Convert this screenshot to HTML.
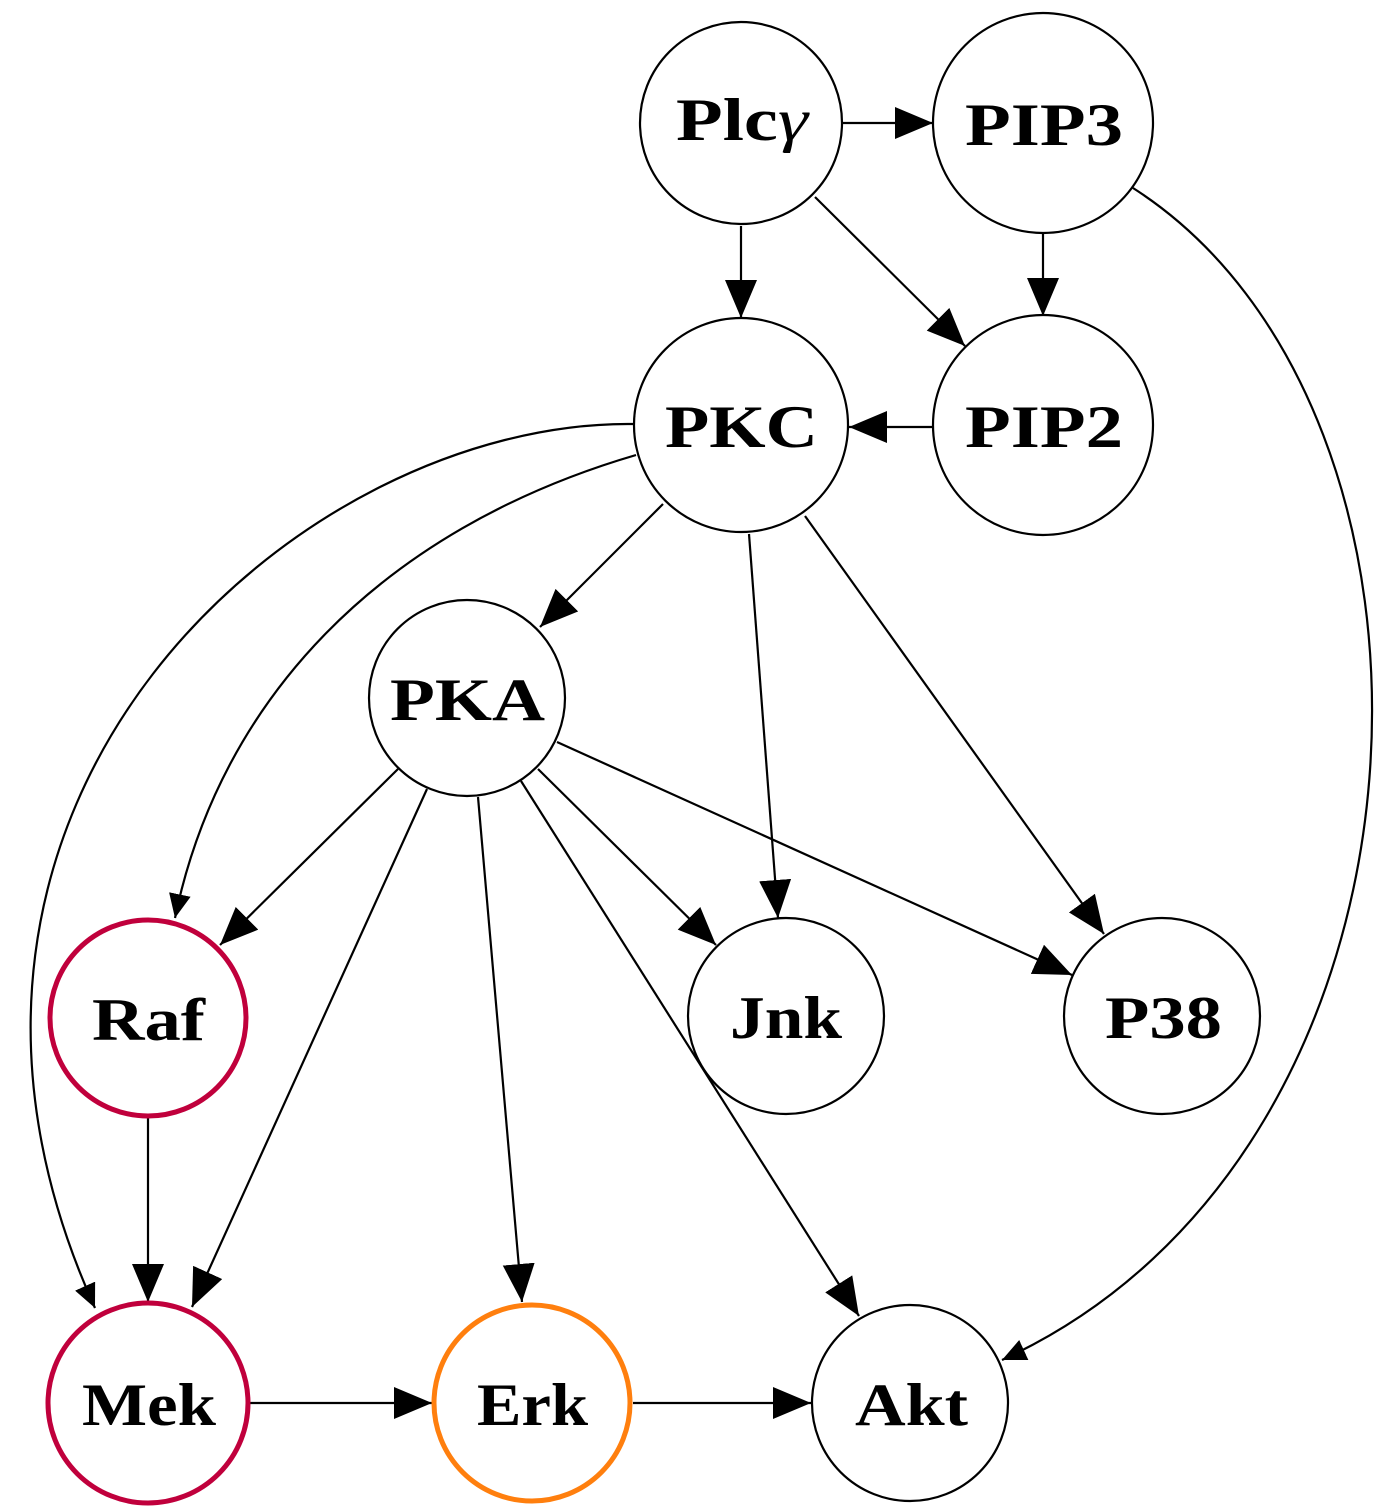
<!DOCTYPE html>
<html><head><meta charset="utf-8"><style>html,body{margin:0;padding:0;background:#fff}</style></head>
<body>
<svg width="1394" height="1506" viewBox="0 0 1394 1506" xmlns="http://www.w3.org/2000/svg">
<defs>
<marker id="a" markerUnits="userSpaceOnUse" markerWidth="40" markerHeight="34" refX="38" refY="16" orient="auto"><path d="M0,0 L38,16 L0,32 Z" fill="#000"/></marker>
<marker id="s" markerUnits="userSpaceOnUse" markerWidth="26" markerHeight="24" refX="24" refY="11" orient="auto"><path d="M0,0 L24,11 L0,22 Z" fill="#000"/></marker>
</defs>
<g fill="none" stroke="#000" stroke-width="2.2">
<line x1="843" y1="123" x2="933" y2="123" marker-end="url(#a)"/>
<line x1="741" y1="226" x2="741" y2="318" marker-end="url(#a)"/>
<line x1="815" y1="197" x2="965" y2="346" marker-end="url(#a)"/>
<line x1="1043" y1="234" x2="1043" y2="316" marker-end="url(#a)"/>
<line x1="933" y1="427" x2="849" y2="427" marker-end="url(#a)"/>
<path d="M1133,188 C1480,410 1460,1150 1002,1360" marker-end="url(#s)"/>
<path d="M636,455 C380,530 220,700 175,918" marker-end="url(#s)"/>
<path d="M633,424 C300,420 -135,800 95,1308" marker-end="url(#s)"/>
<line x1="663" y1="504" x2="540" y2="627" marker-end="url(#a)"/>
<line x1="749" y1="534" x2="778" y2="918" marker-end="url(#a)"/>
<line x1="805" y1="516" x2="1104" y2="934" marker-end="url(#a)"/>
<line x1="398" y1="769" x2="220" y2="945" marker-end="url(#a)"/>
<line x1="427" y1="789" x2="192" y2="1307" marker-end="url(#a)"/>
<line x1="478" y1="797" x2="522" y2="1302" marker-end="url(#a)"/>
<line x1="521" y1="781" x2="859" y2="1316" marker-end="url(#a)"/>
<line x1="538" y1="769" x2="716" y2="945" marker-end="url(#a)"/>
<line x1="557" y1="742" x2="1072" y2="975" marker-end="url(#a)"/>
<line x1="148" y1="1118" x2="148" y2="1302" marker-end="url(#a)"/>
<line x1="250" y1="1403" x2="432" y2="1403" marker-end="url(#a)"/>
<line x1="633" y1="1403" x2="811" y2="1403" marker-end="url(#a)"/>
</g>
<g fill="#fff" stroke="#000" stroke-width="2.2">
<circle cx="741" cy="123" r="101"/>
<circle cx="1043" cy="123" r="110"/>
<circle cx="741" cy="425" r="107"/>
<circle cx="1043" cy="425" r="110"/>
<circle cx="467" cy="698" r="98"/>
<circle cx="786" cy="1016" r="98"/>
<circle cx="1162" cy="1016" r="98"/>
<circle cx="910" cy="1403" r="98"/>
<circle cx="148" cy="1018" r="98" stroke="#c0003c" stroke-width="5"/>
<circle cx="148" cy="1403" r="100" stroke="#c0003c" stroke-width="5"/>
<circle cx="532" cy="1403" r="98" stroke="#ff7f0e" stroke-width="5"/>
</g>
<g font-family="Liberation Serif, serif" font-weight="bold" font-size="60" fill="#000" lengthAdjust="spacingAndGlyphs">
<text x="676" y="140" textLength="132" lengthAdjust="spacingAndGlyphs">Plc<tspan font-style="italic" font-weight="normal">γ</tspan></text>
<text x="965" y="145" textLength="158" lengthAdjust="spacingAndGlyphs">PIP3</text>
<text x="665" y="447" textLength="153" lengthAdjust="spacingAndGlyphs">PKC</text>
<text x="965" y="447" textLength="158" lengthAdjust="spacingAndGlyphs">PIP2</text>
<text x="390" y="720" textLength="155" lengthAdjust="spacingAndGlyphs">PKA</text>
<text x="92" y="1040" textLength="113" lengthAdjust="spacingAndGlyphs">Raf</text>
<text x="730" y="1038" textLength="112" lengthAdjust="spacingAndGlyphs">Jnk</text>
<text x="1105" y="1038" textLength="117" lengthAdjust="spacingAndGlyphs">P38</text>
<text x="82" y="1425" textLength="134" lengthAdjust="spacingAndGlyphs">Mek</text>
<text x="477" y="1425" textLength="111" lengthAdjust="spacingAndGlyphs">Erk</text>
<text x="855" y="1425" textLength="113" lengthAdjust="spacingAndGlyphs">Akt</text>
</g>
</svg>
</body></html>
